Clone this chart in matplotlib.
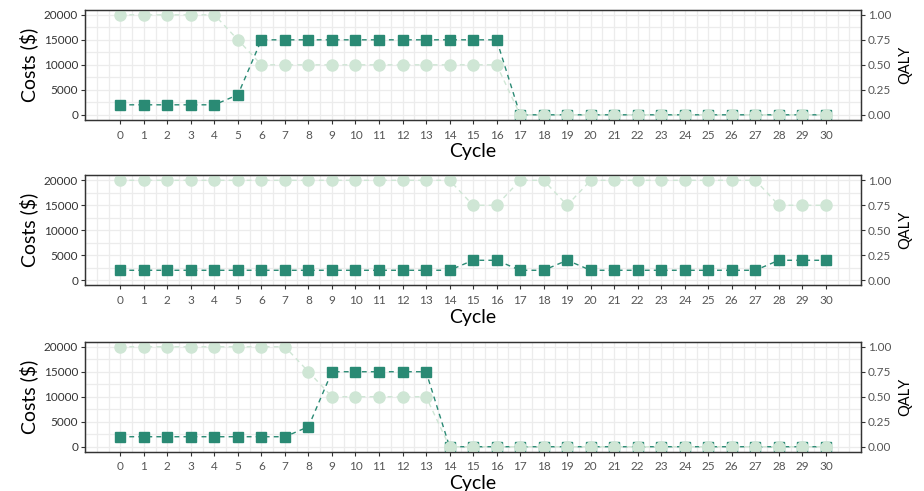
import matplotlib
matplotlib.use("Agg")
import matplotlib.pyplot as plt
import numpy as np

plt.rcParams['font.family'] = ['Lato', 'DejaVu Sans']

cycles = list(range(31))

costs_a = [2000] * 5 + [4000] + [15000] * 11 + [0] * 14
qaly_a = [1.0] * 5 + [0.75] + [0.5] * 11 + [0.0] * 14

costs_b = [2000] * 15 + [4000, 4000, 2000, 2000, 4000] + [2000] * 8 + [4000] * 3
qaly_b = [1.0] * 15 + [0.75, 0.75, 1.0, 1.0, 0.75] + [1.0] * 8 + [0.75] * 3

costs_c = [2000] * 8 + [4000] + [15000] * 5 + [0] * 17
qaly_c = [1.0] * 8 + [0.75] + [0.5] * 5 + [0.0] * 17

cost_ticks = [0, 5000, 10000, 15000, 20000]
qaly_ticks = [0.0, 0.25, 0.5, 0.75, 1.0]

panels = [(costs_a, qaly_a), (costs_b, qaly_b), (costs_c, qaly_c)]

dark = "#2a8a74"
light = "#cfe6d5"
tick_col = "#555555"

fig = plt.figure(figsize=(9.24, 4.91), dpi=100)
left, right = 0.092, 0.932
tops = [0.980, 0.643, 0.304]
height = 0.224

for (costs, qaly), top in zip(panels, tops):
    ax = fig.add_axes([left, top - height, right - left, height])
    ax.set_xlim(-1.5, 31.5)
    ax.set_ylim(-1000, 21000)

    # background grid every half cycle / 2500
    for gx in np.arange(-1.5, 32, 0.5):
        ax.axvline(gx, color="#ececec", lw=0.9, zorder=0)
    for gy in np.arange(-0, 21001, 2500):
        ax.axhline(gy, color="#ececec", lw=0.9, zorder=0)

    ax.plot(cycles, costs, ls=(0, (3.5, 3)), color=dark, lw=1.0,
            marker="s", ms=7, mfc=dark, mec=dark, zorder=3)
    qaly_scaled = [q * 20000 for q in qaly]
    ax.plot(cycles, qaly_scaled, ls=(0, (3.5, 3)), color=light, lw=1.0,
            marker="o", ms=8, mfc=light, mec=light, zorder=4)

    ax.set_xticks(cycles)
    ax.set_yticks(cost_ticks)
    ax.set_yticklabels([str(t) for t in cost_ticks])
    ax.tick_params(axis="x", labelsize=8.5, labelcolor=tick_col, color="#333333",
                   length=3, width=0.8, pad=4)
    ax.tick_params(axis="y", labelsize=8.5, labelcolor="#333333", color="#333333",
                   length=3, width=0.8, pad=2)
    ax.set_xlabel("Cycle", fontsize=14, labelpad=2)
    ax.set_ylabel("Costs ($)", fontsize=14, labelpad=4)
    for sp in ax.spines.values():
        sp.set_color("#333333")
        sp.set_linewidth(0.9)

    ax2 = ax.twinx()
    ax2.set_ylim(-0.05, 1.05)
    ax2.set_yticks(qaly_ticks)
    ax2.set_yticklabels(["%.2f" % t for t in qaly_ticks])
    ax2.tick_params(axis="y", labelsize=8.5, labelcolor=tick_col, color="#333333",
                    length=3, width=0.8, pad=2)
    ax2.set_ylabel("QALY", fontsize=10.5, labelpad=5)
    for sp in ax2.spines.values():
        sp.set_color("#333333")
        sp.set_linewidth(0.9)

fig.savefig("out.png", dpi=100)
